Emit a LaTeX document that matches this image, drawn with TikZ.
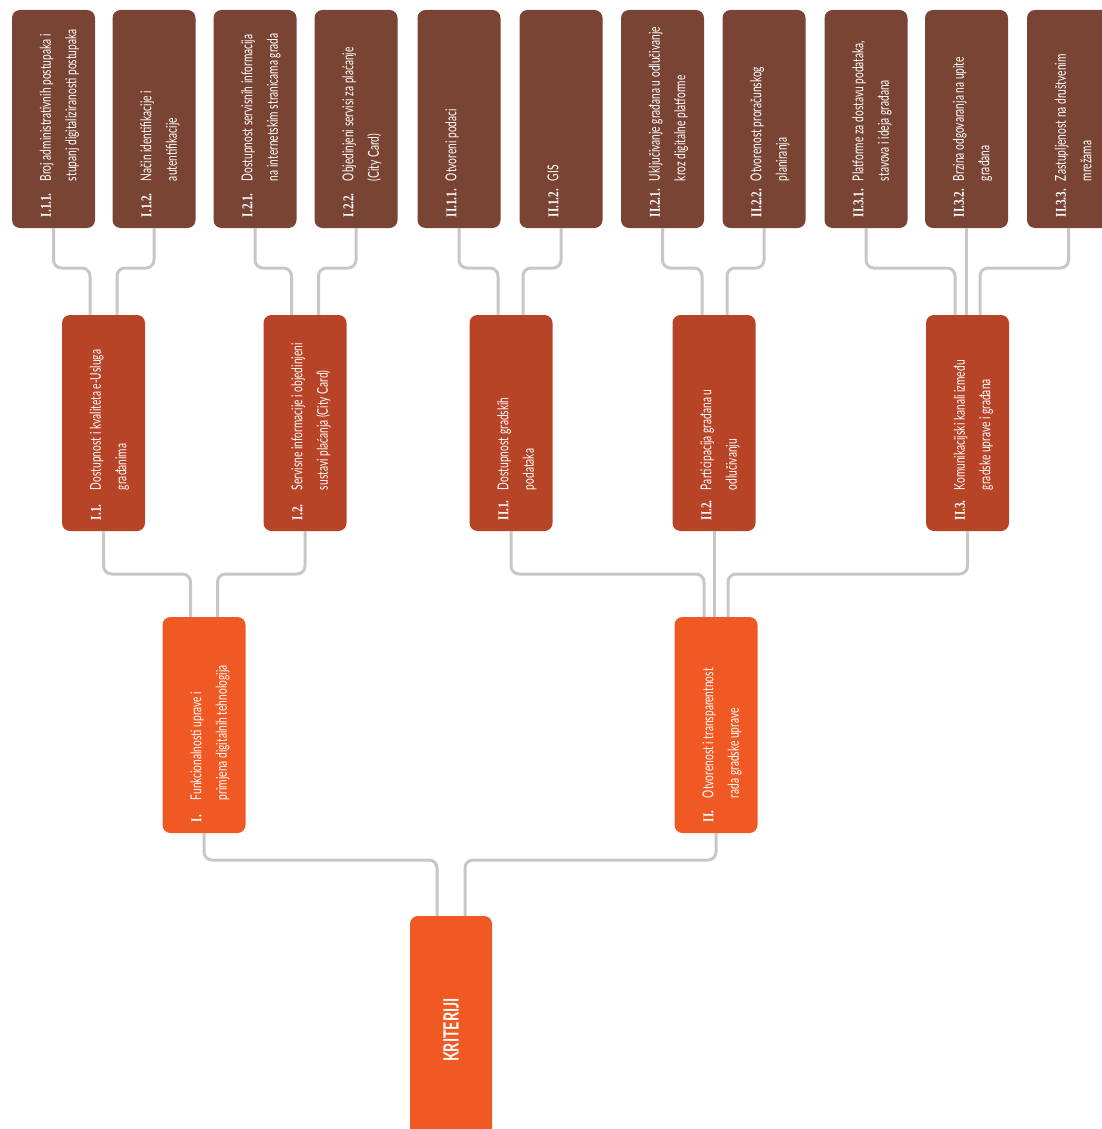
\documentclass[tikz,border=0pt]{standalone}
\usepackage{fontspec}
\newfontfamily\condf[FakeStretch=0.68]{Lato}
\newfontfamily\labf[FakeStretch=0.74]{Liberation Serif}
\definecolor{cBrown}{HTML}{7A4434}
\definecolor{cRust}{HTML}{B84428}
\definecolor{cOrange}{HTML}{F05824}
\definecolor{cLine}{HTML}{C5C7C9}
\tikzset{
  bx/.style={rectangle, rounded corners=8pt, inner sep=0pt, minimum width=83pt},
  lvA/.style={bx, fill=cBrown, minimum height=218pt},
  lvB/.style={bx, fill=cRust, minimum height=216pt},
  lvC/.style={bx, fill=cOrange, minimum height=216pt},
  conn/.style={draw=cLine, line width=3pt, rounded corners=8pt},
  txt/.style={text=white, inner sep=0pt, font=\condf\fontsize{15}{25.5}\selectfont},
}
\newcommand\lab[1]{{\labf\bfseries\fontsize{15}{25.5}\selectfont #1}}
\newcommand\btext[4]{%
  \node[txt, rotate=90, anchor=north west] (#1-t) at ([shift={(21,-11)}]#1.south west)
   {\begin{tabular}{@{}l@{}l@{}}\makebox[#2][l]{\lab{#3}} & #4\end{tabular}};}
\begin{document}
\begin{tikzpicture}[x=1pt,y=-1pt]
\useasboundingbox (0,0) rectangle (1102,1129);
% top level
\node[lvA] (T1) at (53.5,119) {};
\node[lvA] (T2) at (154,119) {};
\node[lvA] (T3) at (255,119) {};
\node[lvA] (T4) at (356,119) {};
\node[lvA] (T5) at (459,119) {};
\node[lvA] (T6) at (561,119) {};
\node[lvA] (T7) at (662.5,119) {};
\node[lvA] (T8) at (764,119) {};
\node[lvA] (T9) at (866,119) {};
\node[lvA] (T10) at (966.5,119) {};
\node[lvA] (T11) at (1068.5,119) {};
% second level
\node[lvB] (I1) at (103.5,423) {};
\node[lvB] (I2) at (305,423) {};
\node[lvB] (II1) at (511,423) {};
\node[lvB] (II2) at (714,423) {};
\node[lvB] (II3) at (967.5,423) {};
% first level
\node[lvC] (I) at (204,725) {};
\node[lvC] (II) at (716,725) {};
% root
\node[bx, fill=cOrange, minimum width=82pt, minimum height=224pt] (R) at (451,1028) {};
\node[rotate=90, text=white, inner sep=0pt, font=\condf\bfseries\fontsize{21}{21}\selectfont] (Rt) at ([yshift=-2pt]R.center) {KRITERIJI};
% texts
\btext{T1}{36pt}{I.1.1.}{Broj administrativnih postupaka i\\ & stupanj digitaliziranosti postupaka}
\btext{T2}{36pt}{I.1.2.}{Način identifikacije i\\ & autentifikacije}
\btext{T3}{36pt}{I.2.1.}{Dostupnost servisnih informacija\\ & na internetskim stranicama grada}
\btext{T4}{36pt}{I.2.2.}{Objedinjeni servisi za plaćanje\\ & (City Card)}
\btext{T5}{36pt}{II.1.1.}{Otvoreni podaci}
\btext{T6}{36pt}{II.1.2.}{GIS}
\btext{T7}{36pt}{II.2.1.}{Uključivanje građana u odlučivanje\\ & kroz digitalne platforme}
\btext{T8}{36pt}{II.2.2.}{Otvorenost proračunskog\\ & planiranja}
\btext{T9}{36pt}{II.3.1.}{Platforme za dostavu podataka,\\ & stavova i ideja građana}
\btext{T10}{36pt}{II.3.2.}{Brzina odgovaranja na upite\\ & građana}
\btext{T11}{36pt}{II.3.3.}{Zastupljenost na društvenim\\ & mrežama}
\btext{I1}{30pt}{I.1.}{Dostupnost i kvaliteta e-Usluga\\ & građanima}
\btext{I2}{30pt}{I.2.}{Servisne informacije i objedinjeni\\ & sustavi plaćanja (City Card)}
\btext{II1}{30pt}{II.1.}{Dostupnost gradskih\\ & podataka}
\btext{II2}{30pt}{II.2.}{Participacija građana u\\ & odlučivanju}
\btext{II3}{30pt}{II.3.}{Komunikacijski kanali između\\ & gradske uprave i građana}
\btext{I}{22pt}{I.}{Funkcionalnosti uprave i\\ & primjena digitalnih tehnologija}
\btext{II}{24pt}{II.}{Otvorenost i transparentnost\\ & rada gradske uprave}
% connectors top -> second
\draw[conn] (T1.south) -- (T1.south |- 0,268) -| ([xshift=-13.5pt]I1.north);
\draw[conn] (T2.south) -- (T2.south |- 0,268) -| ([xshift=13.5pt]I1.north);
\draw[conn] (T3.south) -- (T3.south |- 0,268) -| ([xshift=-13.5pt]I2.north);
\draw[conn] (T4.south) -- (T4.south |- 0,268) -| ([xshift=13.5pt]I2.north);
\draw[conn] (T5.south) -- (T5.south |- 0,268) -| ([xshift=-13pt]II1.north);
\draw[conn] (T6.south) -- (T6.south |- 0,268) -| ([xshift=12pt]II1.north);
\draw[conn] (T7.south) -- (T7.south |- 0,268) -| ([xshift=-12pt]II2.north);
\draw[conn] (T8.south) -- (T8.south |- 0,268) -| ([xshift=13pt]II2.north);
\draw[conn] (T9.south) -- (T9.south |- 0,268) -| ([xshift=-12.5pt]II3.north);
\draw[conn] (T10.south) -- (T10.south |- II3.north);
\draw[conn] (T11.south) -- (T11.south |- 0,268) -| ([xshift=12.5pt]II3.north);
% second -> first
\draw[conn] (I1.south) -- (I1.south |- 0,574) -| ([xshift=-13.5pt]I.north);
\draw[conn] (I2.south) -- (I2.south |- 0,574) -| ([xshift=13.5pt]I.north);
\draw[conn] (II1.south) -- (II1.south |- 0,574) -| ([xshift=-12pt]II.north);
\draw[conn] (II2.south) -- (II2.south |- II.north);
\draw[conn] (II3.south) -- (II3.south |- 0,574) -| ([xshift=12pt]II.north);
% first -> root
\draw[conn] (I.south) -- (I.south |- 0,860) -| ([xshift=-14pt]R.north);
\draw[conn] (II.south) -- (II.south |- 0,860) -| ([xshift=14pt]R.north);
\end{tikzpicture}
\end{document}
